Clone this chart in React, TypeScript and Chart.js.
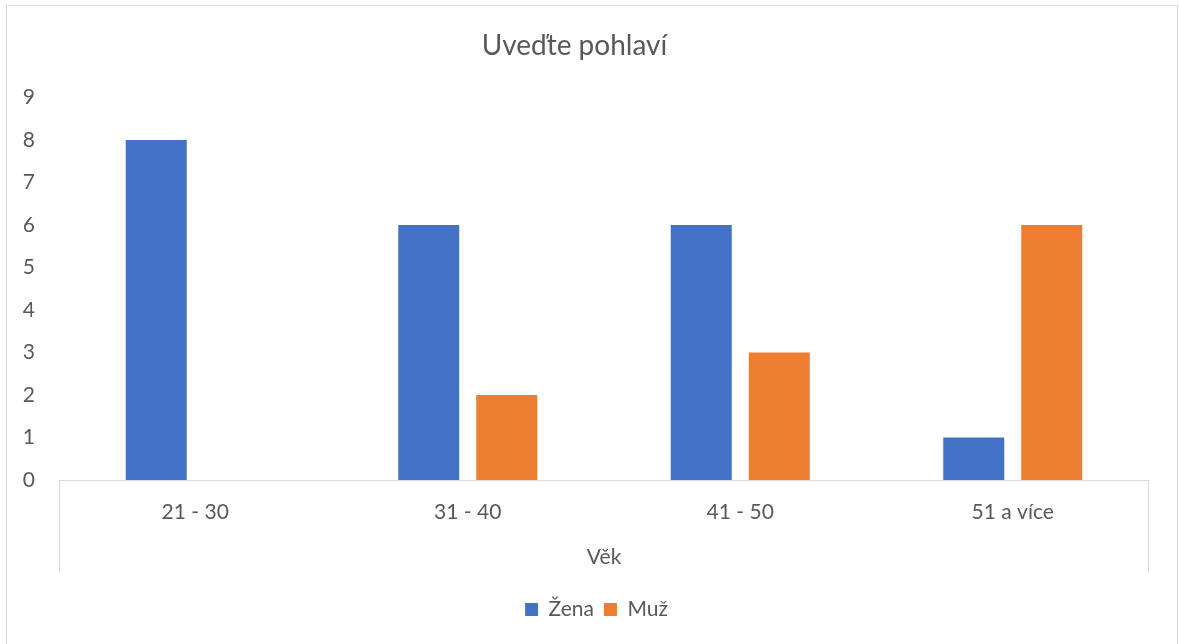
import React, { useEffect, useRef } from "react";
import { Chart, registerables } from "chart.js";

Chart.register(...registerables);

const categories = ["21 - 30", "31 - 40", "41 - 50", "51 a více"];
const zenaValues = [8, 6, 6, 1];
const muzValues = [0, 2, 3, 6];
const seriesNames = ["Žena", "Muž"];
const chartTitle = "Uveďte pohlaví";
const xAxisTitle = "Věk";

const FONT = "Lato, 'Open Sans', sans-serif";
const TEXT = "#595959";
const LINE = "#d9d9d9";

const decorPlugin = {
  id: "decor",
  afterLayout(chart: any) {
    if (chart.legend) {
      chart.legend.left += 22;
      chart.legend.right += 22;
      chart.legend.top += 3;
      chart.legend.bottom += 3;
    }
  },
  beforeDraw(chart: any) {
    const ctx = chart.ctx;
    ctx.save();
    ctx.strokeStyle = LINE;
    ctx.lineWidth = 1;
    ctx.strokeRect(6.5, 5.5, 1171, 700);
    ctx.restore();
  },
  afterDraw(chart: any) {
    const { ctx, chartArea } = chart;
    ctx.save();
    ctx.strokeStyle = LINE;
    ctx.lineWidth = 1;
    ctx.beginPath();
    const l = Math.round(chartArea.left) + 0.5;
    const r = Math.round(chartArea.right) - 0.5;
    const b = chartArea.bottom;
    ctx.moveTo(l, b);
    ctx.lineTo(l, b + 93);
    ctx.moveTo(r, b);
    ctx.lineTo(r, b + 93);
    ctx.stroke();
    ctx.restore();
  },
};

export default function App() {
  const ref = useRef<HTMLCanvasElement | null>(null);
  useEffect(() => {
    if (!ref.current) return;
    const chart = new Chart(ref.current, {
      type: "bar",
      data: {
        labels: categories,
        datasets: [
          { label: seriesNames[0], data: zenaValues, backgroundColor: "#4472C4" },
          { label: seriesNames[1], data: muzValues, backgroundColor: "#ED7D31" },
        ],
      },
      options: {
        responsive: false,
        animation: false,
        layout: { padding: { left: 0, right: 30, top: 0, bottom: 17 } },
        datasets: { bar: { categoryPercentage: 0.5725, barPercentage: 0.782 } } as any,
        plugins: {
          title: {
            display: true,
            text: chartTitle,
            color: TEXT,
            font: { family: FONT, size: 28, weight: "normal" },
            padding: { top: 29, bottom: 35 },
          },
          legend: {
            position: "bottom",
            labels: {
              color: TEXT,
              font: { family: FONT, size: 21 },
              boxWidth: 13,
              boxHeight: 13,
              padding: 10,
            },
          },
          tooltip: { enabled: false },
        },
        scales: {
          x: {
            grid: { display: false, drawTicks: false },
            border: { display: true, color: LINE, width: 1 },
            ticks: { color: TEXT, font: { family: FONT, size: 21 }, padding: 20 },
            title: {
              display: true,
              text: xAxisTitle,
              color: TEXT,
              font: { family: FONT, size: 21 },
              padding: { top: 18, bottom: 16 },
            },
            afterFit(scale: any) {
              scale.height = 106;
            },
          },
          y: {
            min: 0,
            max: 9,
            grid: { display: false, drawTicks: false },
            border: { display: false },
            ticks: { stepSize: 1, color: TEXT, font: { family: FONT, size: 21 }, padding: 24 },
            afterFit(scale: any) {
              scale.width = 59;
            },
          },
        },
      },
      plugins: [decorPlugin],
    });
    return () => chart.destroy();
  }, []);
  return (
    <div style={{ position: "absolute", left: 0, top: 0, width: 1179, height: 644, background: "#fff" }}>
      <canvas ref={ref} width={1179} height={644} style={{ display: "block" }} />
    </div>
  );
}
